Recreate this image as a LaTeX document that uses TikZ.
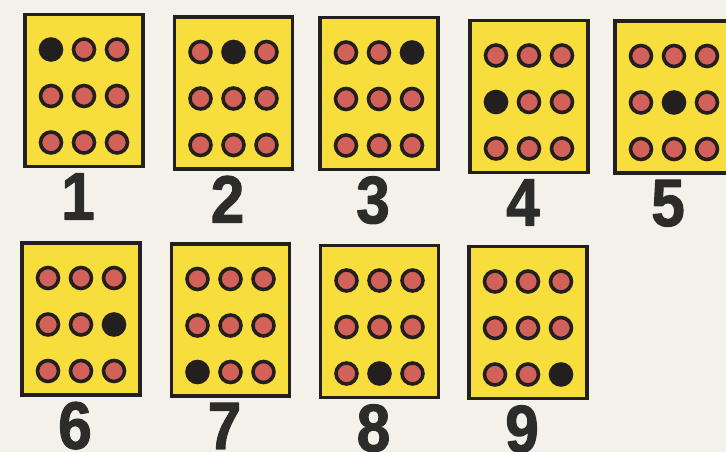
\documentclass[tikz,border=0pt]{standalone}
\usepackage{fontspec}
\newfontfamily\digitfont{Liberation Sans Bold}[FakeBold=1.6, FakeStretch=0.9]
\usepackage{xcolor}
\definecolor{cdyellow}{HTML}{F7DE3C}
\definecolor{cdred}{HTML}{D2615A}
\definecolor{cdink}{HTML}{231F1E}
\definecolor{cddigit}{HTML}{2C2D2A}
\definecolor{cdpaper}{HTML}{F3F1EA}
\usepackage{tikz}
\usetikzlibrary{positioning}
\tikzset{
  every picture/.style={line cap=round, line join=round},
  card/.style={draw=cdink, fill=cdyellow, line width=3.4pt, line join=miter,
    minimum width=118pt, minimum height=152pt, inner sep=0pt},
  dot/.style={draw=cdink, fill=cdred, line width=3.6pt},
  hotdot/.style={dot, fill=cdink},
  numlbl/.style={font=\digitfont\fontsize{67}{67}\selectfont,
    text=cddigit, inner sep=0pt},
}

\begin{document}
\begin{tikzpicture}[x=1pt, y=-1pt]
\fill[cdpaper] (0,0) rectangle (726,452);
\useasboundingbox (0,0) rectangle (726,452);
\clip (0,0) rectangle (726,452);
% ------------------------------------------------------------- cards
\foreach \n/\cx/\cy in {1/84/90.5, 2/233.5/93, 3/379/93.5, 4/529/96.5,
    5/674/97, 6/81/319, 7/230.5/320, 8/379.5/321.5, 9/528/322.5} {
  \node[card] (card\n) at (\cx,\cy) {};
  \foreach \r in {0,1,2}
    \foreach \c in {0,1,2} {
      \pgfmathtruncatemacro\k{3*\r+\c+1}
      \ifnum\k=\n \def\dotstyle{hotdot}\else\def\dotstyle{dot}\fi
      \draw[\dotstyle, shift={(card\n.center)}]
        ({-33+33*\c},{-41+46.5*\r}) circle (10.5);
    }
  \node[numlbl, below=5pt of card\n, xshift=-6pt] (num\n) {\n};
}
\end{tikzpicture}
\end{document}
